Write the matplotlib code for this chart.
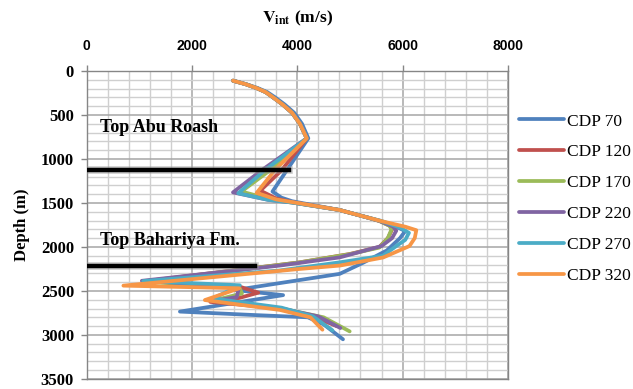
import matplotlib
matplotlib.use("Agg")
import matplotlib.pyplot as plt
import matplotlib.patheffects as pe
from matplotlib.ticker import MultipleLocator

plt.rcParams['mathtext.fontset'] = 'stix'

# interval velocity (m/s) against depth (m) for each CDP
depth_cdp70 = [110, 150, 194, 240, 300, 380, 474, 600, 765, 1130, 1370, 1440, 1480, 1580, 1660, 1705, 1770, 1820, 1900, 2040, 2180, 2306, 2490, 2548, 2735, 2772, 2800, 2880, 3050]
vint_cdp70 = [2780, 3030, 3250, 3430, 3580, 3760, 3940, 4090, 4210, 3800, 3530, 3700, 3900, 4800, 5300, 5580, 5880, 6050, 5950, 5700, 5250, 4806, 2815, 3731, 1773, 3100, 4200, 4500, 4868]

depth_cdp120 = [110, 150, 194, 240, 300, 380, 474, 600, 765, 1130, 1360, 1450, 1490, 1580, 1660, 1705, 1760, 1800, 1900, 2000, 2080, 2175, 2390, 2450, 2520, 2580, 2625, 2700, 2790, 2900]
vint_cdp120 = [2780, 3020, 3226, 3400, 3541, 3720, 3900, 4050, 4180, 3700, 3300, 3600, 3900, 4800, 5300, 5560, 5760, 5800, 5720, 5560, 5000, 4050, 1100, 2900, 3260, 2900, 2350, 3700, 4300, 4750]

depth_cdp170 = [110, 150, 194, 240, 300, 380, 474, 600, 765, 1130, 1370, 1460, 1495, 1580, 1660, 1705, 1760, 1800, 1900, 2007, 2082, 2175, 2395, 2460, 2530, 2610, 2700, 2800, 2960]
vint_cdp170 = [2780, 3020, 3226, 3400, 3541, 3720, 3900, 4050, 4180, 3480, 2940, 3500, 3900, 4800, 5300, 5560, 5750, 5790, 5720, 5560, 5000, 4050, 1100, 2900, 2950, 2400, 3700, 4500, 4995]

depth_cdp220 = [110, 150, 194, 240, 300, 380, 474, 600, 765, 1130, 1380, 1465, 1495, 1580, 1660, 1705, 1770, 1815, 1900, 1990, 2119, 2212, 2385, 2450, 2570, 2615, 2700, 2790, 2922]
vint_cdp220 = [2780, 3020, 3226, 3400, 3541, 3720, 3900, 4050, 4180, 3320, 2780, 3450, 3900, 4800, 5300, 5570, 5820, 5880, 5800, 5600, 4806, 3668, 1050, 2900, 2850, 2400, 3700, 4400, 4819]

depth_cdp270 = [110, 150, 194, 240, 300, 380, 474, 600, 765, 1130, 1390, 1465, 1495, 1580, 1660, 1705, 1780, 1840, 1920, 1990, 2100, 2175, 2268, 2388, 2436, 2586, 2690, 2790, 2948]
vint_cdp270 = [2780, 3020, 3226, 3400, 3541, 3720, 3900, 4050, 4180, 3380, 2880, 3450, 3900, 4800, 5300, 5600, 5950, 6120, 6050, 5880, 5627, 4806, 3668, 1077, 2910, 2404, 3700, 4300, 4668]

depth_cdp320 = [110, 150, 194, 240, 300, 380, 474, 600, 765, 1130, 1385, 1460, 1490, 1580, 1660, 1710, 1770, 1810, 1900, 1990, 2120, 2212, 2250, 2440, 2470, 2604, 2716, 2800, 2941]
vint_cdp320 = [2780, 3020, 3226, 3400, 3541, 3720, 3900, 4050, 4180, 3570, 3230, 3600, 3900, 4800, 5300, 5620, 6050, 6260, 6230, 6130, 5630, 4806, 4050, 700, 2900, 2246, 3668, 4250, 4478]

series_labels = ['CDP 70', 'CDP 120', 'CDP 170', 'CDP 220', 'CDP 270', 'CDP 320']
series_colors = ['#4F81BD', '#C0504D', '#9BBB59', '#8064A2', '#4BACC6', '#F79646']

x_ticks = [0, 2000, 4000, 6000, 8000]
y_ticks = [0, 500, 1000, 1500, 2000, 2500, 3000, 3500]

# formation tops: depth and how far the marker line runs
top_names = ['Top Abu Roash', 'Top Bahariya Fm.']
top_depths = [1130, 2212]
top_line_end = [3840, 3194]
top_label_depths = [640, 1930]

fig = plt.figure(figsize=(6.33, 3.89), dpi=100)
ax = fig.add_axes([0.1367, 0.026, 0.6658, 0.7915])

all_depths = [depth_cdp70, depth_cdp120, depth_cdp170, depth_cdp220, depth_cdp270, depth_cdp320]
all_vint = [vint_cdp70, vint_cdp120, vint_cdp170, vint_cdp220, vint_cdp270, vint_cdp320]
for d, v, lab, col in zip(all_depths, all_vint, series_labels, series_colors):
    ax.plot(v, d, color=col, lw=2.7, label=lab, solid_joinstyle='round',
            solid_capstyle='round', zorder=3)

for name, dep, xend, ldep in zip(top_names, top_depths, top_line_end, top_label_depths):
    ax.plot([0, xend], [dep, dep], color='black', lw=3.2, zorder=4,
            path_effects=[pe.Stroke(linewidth=5.5, foreground='#9a9a9a', alpha=0.5), pe.Normal()])
    ax.text(250, ldep, name, fontsize=13, fontweight='bold', family='Liberation Serif',
            va='center', ha='left', zorder=5)

ax.set_xlim(0, 8000)
ax.set_ylim(3500, 0)
ax.set_xticks(x_ticks)
ax.set_xticklabels([str(t) for t in x_ticks], fontfamily='Liberation Sans',
                   fontweight='bold', fontsize=10)
ax.set_yticks(y_ticks)
ax.set_yticklabels([str(t) for t in y_ticks], fontfamily='Liberation Serif',
                   fontweight='bold', fontsize=12)
ax.xaxis.set_minor_locator(MultipleLocator(400))
ax.yaxis.set_minor_locator(MultipleLocator(100))
ax.grid(which='minor', color='#cfcfcf', lw=1.0, zorder=0)
ax.grid(which='major', color='#a6a6a6', lw=1.1, zorder=0)
ax.set_axisbelow(True)

ax.xaxis.tick_top()
ax.xaxis.set_label_position('top')
ax.tick_params(axis='x', which='major', direction='out', length=4, width=1, color='#868686', pad=9)
ax.tick_params(axis='y', which='major', direction='out', length=4, width=1, color='#868686', pad=5)
ax.tick_params(which='minor', length=0)

for side in ['top', 'left', 'right', 'bottom']:
    ax.spines[side].set_color('#868686')
    ax.spines[side].set_linewidth(1)

ax.set_xlabel(r'$\mathbf{V_{int}}$ (m/s)', fontsize=12.5, fontweight='bold',
              family='Liberation Serif', labelpad=12)
ax.set_ylabel('Depth (m)', fontsize=12, fontweight='bold', family='Liberation Serif', labelpad=8)

ax.legend(loc='center left', bbox_to_anchor=(1.01, 0.585), frameon=False,
          prop={'family': 'Liberation Serif', 'size': 12.5}, handlelength=2.6,
          handletextpad=0.15, labelspacing=0.85, borderaxespad=0)

fig.savefig('out.png', dpi=100)
